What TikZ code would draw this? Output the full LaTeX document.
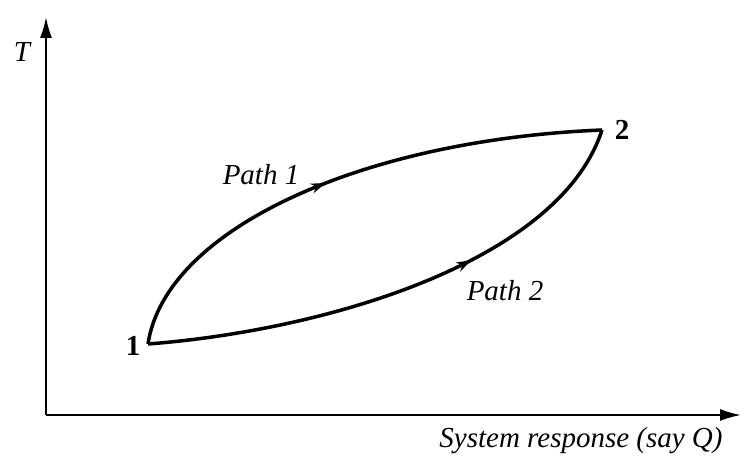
\documentclass[tikz,border=0pt]{standalone}
\usepackage{fontspec}
\setmainfont{Liberation Serif}
\usetikzlibrary{arrows.meta,decorations.markings}
\begin{document}
\begin{tikzpicture}[x=0.02cm, y=-0.02cm,
    axis/.style ={line width=1.1pt, -{Latex[length=0.42cm, width=0.24cm]}},
    process/.style ={line width=2pt, postaction={decorate}},
    label/.style ={font=\fontsize{16.5}{19}\selectfont\itshape},
    state/.style ={font=\fontsize{16.5}{19}\selectfont\bfseries}]
   \useasboundingbox (0,0) rectangle (745,465);

   \coordinate (O)  at (46,415);
   \coordinate (Y)  at (46,17);
   \coordinate (X)  at (741,415);
   \coordinate (P1) at (148,344);
   \coordinate (P2) at (602,130);

   \draw[axis] (O) to (Y);
   \draw[axis] (O) to (X);

   \draw[process, decoration={markings, mark=at position 0.47 with {\arrow{Stealth[length=0.3cm, width=0.2cm]}}}]
      (P1) .. controls (165,230) and (360,140) .. (P2);
   \draw[process, decoration={markings, mark=at position 0.64 with {\arrow{Stealth[length=0.3cm, width=0.2cm]}}}]
      (P1) .. controls (330,330) and (560,260) .. (P2);

   \node[label] (T)  at (22,52)   {T};
   \node[label] (Q)  at (581,441) {System response (say Q)};
   \node[label] (L1) at (261,175) {Path 1};
   \node[label] (L2) at (505,291) {Path 2};
   \node[state] (S1) at (133,346) {1};
   \node[state] (S2) at (622,130) {2};

 \end{tikzpicture}
\end{document}
